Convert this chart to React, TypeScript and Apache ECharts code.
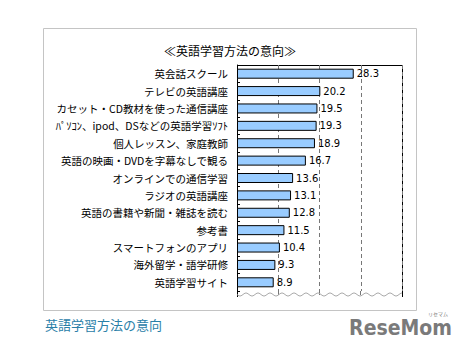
import React, { useEffect, useRef } from "react";
import * as echarts from "echarts";

const categories = [
  "英会話スクール",
  "テレビの英語講座",
  "カセット・CD教材を使った通信講座",
  "ﾊﾟｿｺﾝ、ipod、DSなどの英語学習ｿﾌﾄ",
  "個人レッスン、家庭教師",
  "英語の映画・DVDを字幕なしで観る",
  "オンラインでの通信学習",
  "ラジオの英語講座",
  "英語の書籍や新聞・雑誌を読む",
  "参考書",
  "スマートフォンのアプリ",
  "海外留学・語学研修",
  "英語学習サイト",
];
const values = [28.3, 20.2, 19.5, 19.3, 18.9, 16.7, 13.6, 13.1, 12.8, 11.5, 10.4, 9.3, 8.9];
const titleText = "≪英語学習方法の意向≫";
const captionText = "英語学習方法の意向";

const FONT = "'Noto Sans CJK JP', 'Noto Sans', sans-serif";

export default function App() {
  const ref = useRef<HTMLDivElement>(null);
  useEffect(() => {
    document.body.style.margin = "0";
    const chart = echarts.init(ref.current!, null, { renderer: "svg" });
    const L = 237, R = 402, T = 65, B = 291;
    const wave: number[][] = [];
    for (let x = L; x <= R; x += 1) {
      wave.push([x, 294.5 + 1.5 * Math.sin(((x - L) / 12) * 2 * Math.PI)]);
    }
    chart.setOption({
      animation: false,
      backgroundColor: "#ffffff",
      textStyle: { fontFamily: FONT },
      grid: { left: L, top: T, width: R - L, height: B - T, containLabel: false },
      xAxis: {
        type: "value",
        min: 0,
        max: 40,
        interval: 10,
        axisLabel: { show: false },
        axisTick: { show: false },
        axisLine: { show: false },
        splitLine: { show: true, lineStyle: { color: "#777777", type: [4, 3], width: 1 } },
      },
      yAxis: {
        type: "category",
        data: categories,
        inverse: true,
        axisLine: { show: true, lineStyle: { color: "#000000", width: 1 } },
        axisTick: { show: true, inside: true, length: 3, lineStyle: { color: "#000000" } },
        axisLabel: { color: "#000000", fontSize: 10.5, margin: 9, fontFamily: FONT },
      },
      series: [
        {
          type: "bar",
          data: values,
          barWidth: 10,
          itemStyle: { color: "#99ccff", borderColor: "#000000", borderWidth: 1 },
          label: {
            show: true,
            position: "right",
            distance: 3,
            color: "#000000",
            fontSize: 10,
            fontFamily: "'DejaVu Sans', sans-serif",
            formatter: (p: any) => p.value.toFixed(1),
          },
        },
      ],
      graphic: [
        { type: "rect", shape: { x: 43.5, y: 28.5, width: 373, height: 282 }, style: { fill: "none", stroke: "#c4c4c4", lineWidth: 1 }, z: -1 },
        { type: "text", x: 230, y: 50, style: { text: titleText, fontSize: 12, fontFamily: FONT, fill: "#000000", textAlign: "center", textVerticalAlign: "middle" } },
        { type: "line", shape: { x1: L, y1: T + 0.5, x2: R, y2: T + 0.5 }, style: { stroke: "#000000", lineWidth: 1 } },
        { type: "line", shape: { x1: R + 0.5, y1: T, x2: R + 0.5, y2: 297 }, style: { stroke: "#000000", lineWidth: 1 } },
        { type: "line", shape: { x1: L + 0.5, y1: B, x2: L + 0.5, y2: 297 }, style: { stroke: "#000000", lineWidth: 1 } },
        { type: "line", shape: { x1: 278.5, y1: B, x2: 278.5, y2: 295 }, style: { stroke: "#777777", lineWidth: 1, lineDash: [4, 3] } },
        { type: "line", shape: { x1: 319.5, y1: B, x2: 319.5, y2: 295 }, style: { stroke: "#777777", lineWidth: 1, lineDash: [4, 3] } },
        { type: "line", shape: { x1: 360.5, y1: B, x2: 360.5, y2: 295 }, style: { stroke: "#777777", lineWidth: 1, lineDash: [4, 3] } },
        { type: "polyline", shape: { points: wave }, style: { stroke: "#aaaaaa", lineWidth: 1, fill: "none" } },
        { type: "text", x: 45, y: 324, style: { text: captionText, fontSize: 13, fontFamily: FONT, fill: "#2a80a8", textVerticalAlign: "middle" } },
        { type: "text", x: 452, y: 328, style: { text: "ReseMom", fontSize: 21, fontWeight: "bold", fontFamily: "'DejaVu Sans Condensed', sans-serif", fill: "#7a7a7a", textAlign: "right", textVerticalAlign: "middle" } },
        { type: "text", x: 448, y: 313, style: { text: "リセマム", fontSize: 5, fontFamily: FONT, fill: "#7a7a7a", textAlign: "right", textVerticalAlign: "middle" } },
      ],
    });
    return () => chart.dispose();
  }, []);
  return <div ref={ref} style={{ width: 465, height: 351, position: "absolute", left: 0, top: 0 }} />;
}
